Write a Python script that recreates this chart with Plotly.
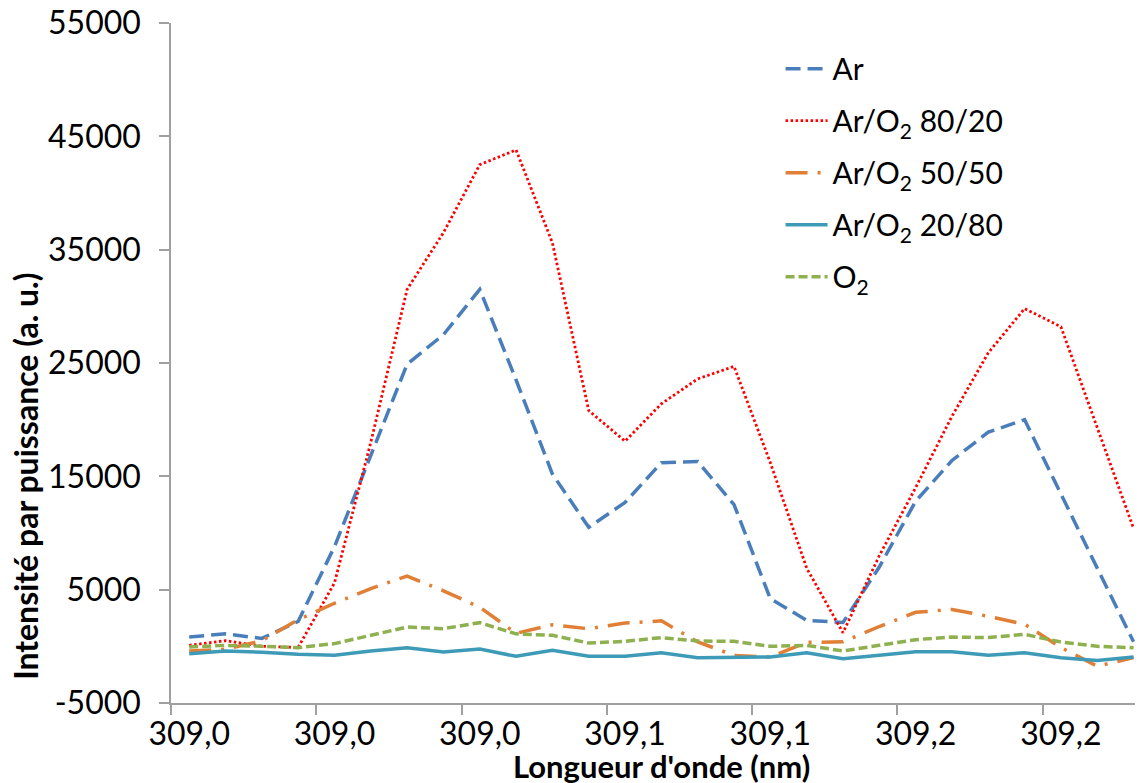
import plotly.graph_objects as go

# Wavelength of each measured point (nm)
wavelengths_nm = [308.96, 308.97, 308.98, 308.99, 309.00, 309.01, 309.02, 309.03, 309.04,
                  309.05, 309.06, 309.07, 309.08, 309.09, 309.10, 309.11, 309.12, 309.13,
                  309.14, 309.15, 309.16, 309.17, 309.18, 309.19, 309.20, 309.21, 309.22]

# Tick labels shown every 4th point (as in the original, rounded to 1 decimal)
x_tick_labels = ["309,0", "309,0", "309,0", "309,1", "309,1", "309,2", "309,2"]
y_tick_values = [-5000, 5000, 15000, 25000, 35000, 45000, 55000]

ar = [830, 1100, 700, 2200, 8800, 16900, 24900, 27500, 31500, 23500, 15200, 10500, 12700,
      16200, 16300, 12500, 4200, 2300, 2100, 7000, 12800, 16400, 18900, 20000, 13400, 6900, 400]
ar_o2_80_20 = [90, 500, 0, -100, 5600, 18000, 31500, 36500, 42500, 43800, 35600, 20800, 18100,
               21400, 23600, 24700, 16200, 6900, 1200, 8000, 14000, 20300, 25900, 29800, 28200,
               19300, 10400]
ar_o2_50_50 = [-410, -250, 500, 2350, 3800, 5100, 6200, 4900, 3450, 1150, 1900, 1550, 2050,
               2250, 400, -800, -950, 350, 400, 1750, 3000, 3250, 2650, 1950, -100, -1750, -1000]
ar_o2_20_80 = [-650, -410, -530, -700, -790, -410, -120, -500, -240, -880, -350, -880, -880,
               -560, -1000, -940, -940, -560, -1090, -790, -470, -470, -790, -560, -1000, -1240, -940]
o2 = [-60, 90, 0, -120, 240, 970, 1700, 1560, 2090, 1100, 970, 290, 440,
      770, 470, 440, 0, 90, -410, 90, 590, 820, 770, 1060, 380, 0, -120]

series = [
    ("Ar", ar, "#4A7EBB", "15px,7px", 3.5),
    ("Ar/O<sub>2</sub> 80/20", ar_o2_80_20, "#FF0000", "2.5px,2.5px", 2.8),
    ("Ar/O<sub>2</sub> 50/50", ar_o2_50_50, "#E07F35", "22px,10px,3px,10px", 3.5),
    ("Ar/O<sub>2</sub> 20/80", ar_o2_20_80, "#3E9BB8", "solid", 3.5),
    ("O<sub>2</sub>", o2, "#8FB04E", "9px,4px", 3.5),
]

FONT = "Lato"
fig = go.Figure()
for i, (name, vals, color, dash, w) in enumerate(series):
    fig.add_trace(go.Scatter(
        x=wavelengths_nm, y=vals, mode="lines", name=name,
        legendgroup=f"g{i}",
        line=dict(color=color, dash=dash, width=w),
    ))

step = wavelengths_nm[1] - wavelengths_nm[0]
label_vals = wavelengths_nm[0::4]
minor_vals = [v - step / 2 for v in label_vals]
x_left = wavelengths_nm[0] - step / 2 - 1e-5
x_right = wavelengths_nm[-1] + step * 0.48

axis_color = "#A0A0A0"
fig.update_layout(
    width=1143, height=783,
    margin=dict(l=163, r=0, t=15, b=88),
    paper_bgcolor="white", plot_bgcolor="white",
    font=dict(family=FONT, size=32, color="black"),
    showlegend=True,
    legend=dict(x=0.622, y=0.971, xanchor="left", yanchor="top",
                bgcolor="rgba(0,0,0,0)", font=dict(family=FONT, size=30),
                tracegroupgap=10, itemwidth=42, traceorder="grouped"),
    xaxis=dict(range=[x_left, x_right], showgrid=False, zeroline=False,
               showline=True, linecolor=axis_color, linewidth=1.5,
               tickmode="array", tickvals=label_vals, ticktext=x_tick_labels,
               ticks="", tickfont=dict(family=FONT, size=32), ticklabelstandoff=2,
               ticklabeloverflow="allow",
               minor=dict(tickmode="array", tickvals=minor_vals, ticks="outside",
                          ticklen=10, tickcolor=axis_color, tickwidth=1.5, showgrid=False),
               automargin=False),
    yaxis=dict(range=[-5000, 55000], showgrid=False, zeroline=False,
               showline=True, linecolor=axis_color, linewidth=1.5,
               tickmode="array", tickvals=y_tick_values,
               ticktext=[str(v) for v in y_tick_values],
               ticks="outside", ticklen=10, tickcolor=axis_color, tickwidth=1.5,
               tickfont=dict(family=FONT, size=32), ticklabelstandoff=12,
               ticklabeloverflow="allow", automargin=False),
    annotations=[
        dict(text="<b>Longueur d'onde (nm)</b>", xref="paper", yref="paper",
             x=0.5, y=-0.093, xanchor="center", yanchor="middle", showarrow=False,
             font=dict(family=FONT, size=31, color="black")),
        dict(text="<b>Intensité par puissance (a. u.)</b>", xref="paper", yref="paper",
             x=-0.148, y=0.334, xanchor="center", yanchor="middle", showarrow=False,
             textangle=-90, font=dict(family=FONT, size=32, color="black")),
    ],
)

fig.write_html("out.html")
